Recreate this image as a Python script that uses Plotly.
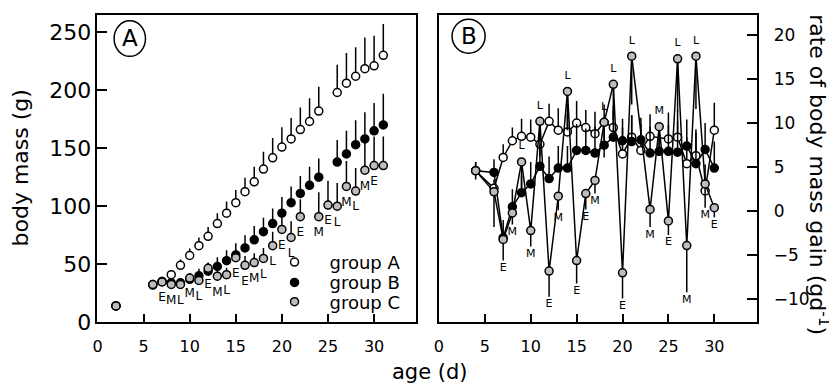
import plotly.graph_objects as go

W, H = 837, 391
FONT = "DejaVu Sans"

# ---------------- Panel A: body mass (g) ----------------
days_mass_AB = [2, 6, 7, 8, 9, 10, 11, 12, 13, 14, 15, 16, 17, 18, 19, 20, 21, 22, 23, 24, 26, 27, 28, 29, 30, 31]
mass_A = [14, 32.5, 35, 41, 49, 57.5, 66, 74, 85, 94, 103, 112.5, 121, 132, 141.7, 151, 158, 166, 173, 182, 198, 206, 212, 218.5, 221, 230]
err_mass_A = [1, 2, 3, 4, 5, 6, 7, 8, 9, 10, 11, 12, 13, 15, 17, 17, 18, 19, 20, 21, 24, 26, 25, 27, 26, 27]
mass_B = [14, 32, 35, 34, 34, 37, 40, 44, 48, 53, 58, 64, 71, 78, 85, 94, 103, 111, 118, 125, 138, 145, 153, 158, 165, 170]
err_mass_B = [1, 2, 3, 3, 4, 5, 6, 7, 8, 9, 10, 11, 12, 12, 13, 14, 14, 15, 16, 16, 19, 20, 21, 23, 24, 27]

days_mass_C = [2, 6, 7, 8, 9, 10, 11, 12, 13, 14, 15, 16, 17, 18, 19, 20, 21, 22, 24, 25, 26, 27, 28, 29, 30, 31]
mass_C = [14, 32.5, 34.7, 32.5, 32.5, 38, 36, 46.4, 39.7, 41, 55.6, 49, 51.4, 55, 66, 80, 73, 91, 91, 101, 100, 117, 113, 131, 135, 135]
err_mass_C = [1, 2, 2, 3, 3, 4, 4, 5, 5, 6, 7, 8, 8, 9, 12, 10, 14, 15, 21, 21, 20, 22, 20, 28, 25, 25]

label_days_mass = [7, 8, 9, 10, 11, 12, 13, 14, 15, 16, 17, 18, 19, 20, 21, 22, 24, 25, 26, 27, 28, 29, 30]
label_text_mass = ["E", "M", "L", "M", "L", "E", "M", "L", "E", "E", "M", "L", "L", "E", "L", "E", "M", "E", "L", "M", "L", "M", "E"]

# ---------------- Panel B: rate of body mass gain ----------------
days_rate_A = [4, 6, 7, 8, 9, 10, 11, 12, 13, 14, 15, 16, 17, 18, 19, 20, 21, 22, 23, 25, 26, 27, 28, 29, 30]
rate_A = [4.6, 2.6, 6.1, 8.0, 8.5, 8.4, 7.6, 10.2, 9.2, 9.0, 10.0, 9.5, 8.8, 10.1, 9.5, 6.5, 8.4, 6.9, 8.5, 8.2, 8.4, 5.4, 6.3, 2.3, 9.2]
err_rate_A = [1.0, 1.0, 1.5, 1.5, 2.0, 2.0, 2.5, 2.0, 2.5, 2.0, 2.5, 2.0, 2.5, 2.0, 2.5, 3.0, 2.5, 3.0, 2.5, 3.0, 3.0, 3.0, 3.0, 3.0, 3.1]

days_rate_B = [4, 6, 7, 8, 9, 10, 11, 12, 13, 14, 15, 16, 17, 18, 19, 20, 21, 22, 23, 24, 25, 26, 27, 28, 29, 30]
rate_B = [4.6, 4.4, -3.0, 0.5, 2.1, 3.1, 5.1, 3.7, 4.9, 4.9, 6.9, 6.9, 6.6, 7.5, 8.4, 8.0, 7.9, 8.1, 6.6, 6.8, 6.8, 6.7, 7.4, 5.4, 7.0, 4.9]
err_rate_B = [1.0, 1.5, 2.0, 2.0, 2.0, 2.5, 2.5, 2.5, 2.5, 2.5, 3.0, 2.5, 3.0, 2.5, 3.0, 2.5, 3.0, 2.5, 3.0, 3.0, 3.0, 3.5, 3.0, 3.5, 3.0, 3.0]

days_rate_C = [4, 6, 7, 8, 9, 10, 11, 12, 13, 14, 15, 16, 17, 18, 19, 20, 21, 23, 24, 25, 26, 27, 28, 29, 30]
rate_C = [4.6, 2.2, -3.2, -0.2, 5.6, -2.2, 10.2, -6.8, 1.7, 13.6, -5.6, 2.0, 3.5, 10.1, 14.4, -7.0, 17.6, 0.2, 9.6, -1.1, 17.3, -3.9, 17.6, 3.1, 0.4]
err_rate_C = [1.0, 4.0, 2.4, 1.3, 4.0, 1.8, 4.0, 2.9, 1.6, 4.4, 2.6, 1.8, 1.5, 4.0, 4.0, 2.9, 5.5, 2.0, 3.0, 1.6, 6.0, 5.3, 6.0, 2.7, 1.1]

label_days_rate = [7, 8, 9, 10, 11, 12, 13, 14, 15, 16, 17, 18, 19, 20, 21, 23, 24, 25, 26, 27, 28, 29, 30]
label_text_rate = ["E", "M", "L", "M", "L", "E", "M", "L", "E", "E", "M", "L", "L", "E", "L", "M", "M", "E", "L", "M", "L", "M", "E"]
label_above_rate = [False, False, True, False, True, False, False, True, False, False, False, True, True, False, True, False, True, False, True, False, True, False, False]

x_ticks = [0, 5, 10, 15, 20, 25, 30]
mass_ticks = [0, 50, 100, 150, 200, 250]
rate_ticks = [-10, -5, 0, 5, 10, 15, 20]

# ---------------- styles ----------------
WHITE, BLACK, GREY = "#ffffff", "#000000", "#bdbdbd"
MSIZE = 8
LW = 1.5


def mk(fill):
    return dict(symbol="circle", size=MSIZE, color=fill, line=dict(color=BLACK, width=LW))


def up(err):
    return dict(type="data", symmetric=False, array=err, arrayminus=[0] * len(err),
                color=BLACK, thickness=LW, width=0)


def down(err):
    return dict(type="data", symmetric=False, array=[0] * len(err), arrayminus=err,
                color=BLACK, thickness=LW, width=0)


fig = go.Figure()

# Panel A traces
fig.add_trace(go.Scatter(x=days_mass_AB, y=mass_A, mode="markers", name="group A", legend="legend",
                         marker=mk(WHITE), error_y=up(err_mass_A), xaxis="x", yaxis="y"))
fig.add_trace(go.Scatter(x=days_mass_AB, y=mass_B, mode="markers", name="group B", legend="legend2",
                         marker=mk(BLACK), error_y=up(err_mass_B), xaxis="x", yaxis="y"))
fig.add_trace(go.Scatter(x=days_mass_C, y=mass_C, mode="markers", name="group C", legend="legend3",
                         marker=mk(GREY), error_y=up(err_mass_C), xaxis="x", yaxis="y"))

cmass = dict(zip(days_mass_C, mass_C))
fig.add_trace(go.Scatter(x=label_days_mass, y=[cmass[d] for d in label_days_mass],
                         mode="markers+text", text=label_text_mass, textposition="bottom center",
                         textfont=dict(family=FONT, size=12, color=BLACK),
                         marker=dict(size=15, opacity=0), showlegend=False, hoverinfo="skip",
                         xaxis="x", yaxis="y"))

# Panel B traces
line = dict(color=BLACK, width=LW)
fig.add_trace(go.Scatter(x=days_rate_A, y=rate_A, mode="lines+markers", line=line,
                         marker=mk(WHITE), error_y=up(err_rate_A), showlegend=False,
                         xaxis="x2", yaxis="y2"))
fig.add_trace(go.Scatter(x=days_rate_B, y=rate_B, mode="lines+markers", line=line,
                         marker=mk(BLACK), error_y=up(err_rate_B), showlegend=False,
                         xaxis="x2", yaxis="y2"))
fig.add_trace(go.Scatter(x=days_rate_C, y=rate_C, mode="lines+markers", line=line,
                         marker=mk(GREY), error_y=down(err_rate_C), showlegend=False,
                         xaxis="x2", yaxis="y2"))

crate = dict(zip(days_rate_C, rate_C))
cerr = dict(zip(days_rate_C, err_rate_C))
ab_d = [d for d, a in zip(label_days_rate, label_above_rate) if a]
ab_t = [t for t, a in zip(label_text_rate, label_above_rate) if a]
be_d = [d for d, a in zip(label_days_rate, label_above_rate) if not a]
be_t = [t for t, a in zip(label_text_rate, label_above_rate) if not a]
fig.add_trace(go.Scatter(x=ab_d, y=[crate[d] for d in ab_d], mode="markers+text", text=ab_t,
                         textposition="top center", textfont=dict(family=FONT, size=11, color=BLACK),
                         marker=dict(size=14, opacity=0), showlegend=False, hoverinfo="skip",
                         xaxis="x2", yaxis="y2"))
fig.add_trace(go.Scatter(x=be_d, y=[crate[d] - cerr[d] for d in be_d], mode="markers+text", text=be_t,
                         textposition="bottom center", textfont=dict(family=FONT, size=11, color=BLACK),
                         marker=dict(size=2, opacity=0), showlegend=False, hoverinfo="skip",
                         xaxis="x2", yaxis="y2"))

ydom = [1 - 325 / H, 1 - 7 / H]
axis_common = dict(showline=True, mirror=True, linecolor=BLACK, linewidth=LW, ticks="inside",
                   tickwidth=LW, tickcolor=BLACK, showgrid=False, zeroline=False,
                   tickfont=dict(family=FONT, color=BLACK))


def leg(top_px):
    return dict(x=248 / W, y=1 - top_px / H, xanchor="left", yanchor="top",
                font=dict(family=FONT, size=18, color=BLACK), bgcolor="rgba(0,0,0,0)",
                itemwidth=60)


fig.update_layout(
    width=W, height=H, margin=dict(l=0, r=0, t=0, b=0),
    paper_bgcolor="white", plot_bgcolor="white",
    font=dict(family=FONT, color=BLACK),
    xaxis=dict(axis_common, domain=[85 / W, 405 / W], range=[0, 34.5], anchor="y",
               tickvals=x_ticks, ticklen=8, tickfont=dict(family=FONT, size=16, color=BLACK),
               ticklabelstandoff=9),
    yaxis=dict(axis_common, domain=ydom, range=[0, 265], anchor="x", tickvals=mass_ticks,
               ticklen=10, tickfont=dict(family=FONT, size=22, color=BLACK)),
    xaxis2=dict(axis_common, domain=[428.5 / W, 748 / W], range=[0, 34.6], anchor="y2",
                tickvals=x_ticks, ticklen=8, tickfont=dict(family=FONT, size=16, color=BLACK),
                ticklabelstandoff=9),
    yaxis2=dict(axis_common, domain=ydom, range=[-12.6, 22.3], anchor="x2", side="right",
                tickvals=rate_ticks, ticklen=10, tickfont=dict(family=FONT, size=17, color=BLACK),
                ticklabelstandoff=12),
    showlegend=True,
    legend=leg(244), legend2=leg(265), legend3=leg(285),
    annotations=[
        dict(text="body mass (g)", textangle=-90, x=8 / W, y=1 - 165 / H, xref="paper", yref="paper",
             showarrow=False, font=dict(family=FONT, size=22, color=BLACK), xanchor="center", yanchor="middle"),
        dict(text="rate of body mass gain (gd<sup>-1</sup>)", textangle=90, x=811 / W, y=1 - 172 / H,
             xref="paper", yref="paper", showarrow=False, font=dict(family=FONT, size=22, color=BLACK),
             xanchor="center", yanchor="middle"),
        dict(text="age (d)", x=420 / W, y=1 - 377 / H, xref="paper", yref="paper", showarrow=False,
             font=dict(family=FONT, size=21, color=BLACK), xanchor="center", yanchor="middle"),
        dict(text="A", x=117.5 / W, y=1 - 31.5 / H, xref="paper", yref="paper", showarrow=False,
             font=dict(family=FONT, size=23, color=BLACK), xanchor="center", yanchor="middle"),
        dict(text="B", x=458.3 / W, y=1 - 29.2 / H, xref="paper", yref="paper", showarrow=False,
             font=dict(family=FONT, size=23, color=BLACK), xanchor="center", yanchor="middle"),
    ],
    shapes=[
        dict(type="circle", xref="paper", yref="paper", x0=101.7 / W, x1=133.3 / W,
             y0=1 - 50 / H, y1=1 - 13.3 / H, line=dict(color=BLACK, width=LW)),
        dict(type="circle", xref="paper", yref="paper", x0=441.7 / W, x1=475 / W,
             y0=1 - 46.7 / H, y1=1 - 11.7 / H, line=dict(color=BLACK, width=LW)),
    ],
)

fig.write_html("out.html")
